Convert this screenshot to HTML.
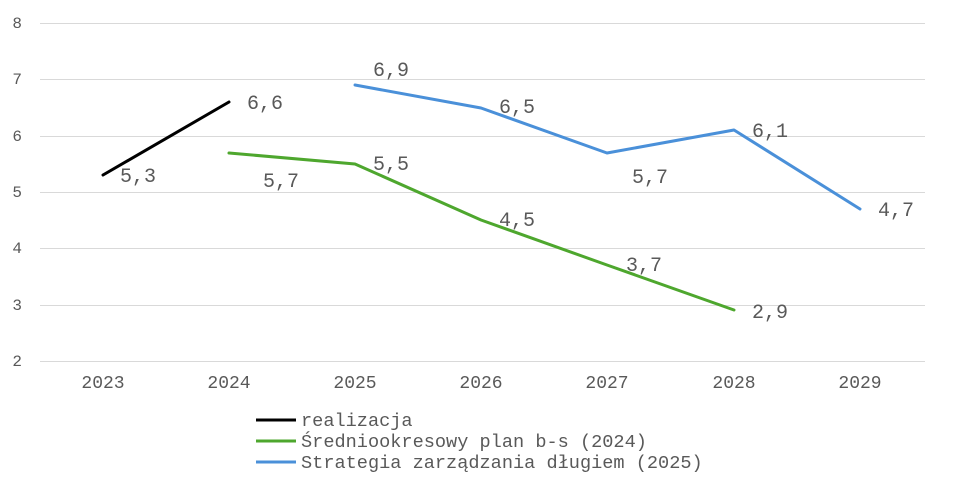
<!DOCTYPE html>
<html><head><meta charset="utf-8"><style>
body{margin:0;background:#fff;}
svg{display:block;}
text{font-family:"Liberation Mono",monospace;fill:#595959;}
</style></head><body>
<svg width="953" height="487" viewBox="0 0 953 487">
<g stroke="#d9d9d9" stroke-width="1">
<line x1="40" x2="925" y1="23.5" y2="23.5"/>
<line x1="40" x2="925" y1="79.5" y2="79.5"/>
<line x1="40" x2="925" y1="136.5" y2="136.5"/>
<line x1="40" x2="925" y1="192.5" y2="192.5"/>
<line x1="40" x2="925" y1="248.5" y2="248.5"/>
<line x1="40" x2="925" y1="305.5" y2="305.5"/>
<line x1="40" x2="925" y1="361.5" y2="361.5"/>
</g>
<g font-size="16" text-anchor="end">
<text x="22" y="28">8</text><text x="22" y="84">7</text><text x="22" y="141">6</text>
<text x="22" y="197">5</text><text x="22" y="253">4</text><text x="22" y="310">3</text><text x="22" y="366">2</text>
</g>
<g font-size="18" text-anchor="middle">
<text x="103" y="388">2023</text><text x="229" y="388">2024</text><text x="355" y="388">2025</text>
<text x="481" y="388">2026</text><text x="607" y="388">2027</text><text x="734" y="388">2028</text><text x="860" y="388">2029</text>
</g>
<g fill="none" stroke-width="3" stroke-linejoin="round" stroke-linecap="round">
<polyline stroke="#000" points="103,175 229,102"/>
<polyline stroke="#4ea72e" points="229,153 355,164 481,220 607,265 734,310"/>
<polyline stroke="#4a90d9" points="355,85 481,108 607,153 734,130 860,209"/>
</g>
<g font-size="20">
<text x="120" y="182">5,3</text><text x="247" y="109">6,6</text>
<text x="263" y="187">5,7</text><text x="373" y="170">5,5</text><text x="499" y="226">4,5</text>
<text x="626" y="271">3,7</text><text x="752" y="318">2,9</text>
<text x="373" y="76">6,9</text><text x="499" y="113">6,5</text><text x="632" y="183">5,7</text>
<text x="752" y="137">6,1</text><text x="878" y="216">4,7</text>
</g>
<g stroke-width="3">
<line x1="256" x2="296" y1="420" y2="420" stroke="#000"/>
<line x1="256" x2="296" y1="441" y2="441" stroke="#4ea72e"/>
<line x1="256" x2="296" y1="462" y2="462" stroke="#4a90d9"/>
</g>
<g font-size="18.6">
<text x="301" y="426">realizacja</text>
<text x="301" y="447">Średniookresowy plan b-s (2024)</text>
<text x="301" y="468">Strategia zarządzania długiem (2025)</text>
</g>
</svg>
</body></html>
